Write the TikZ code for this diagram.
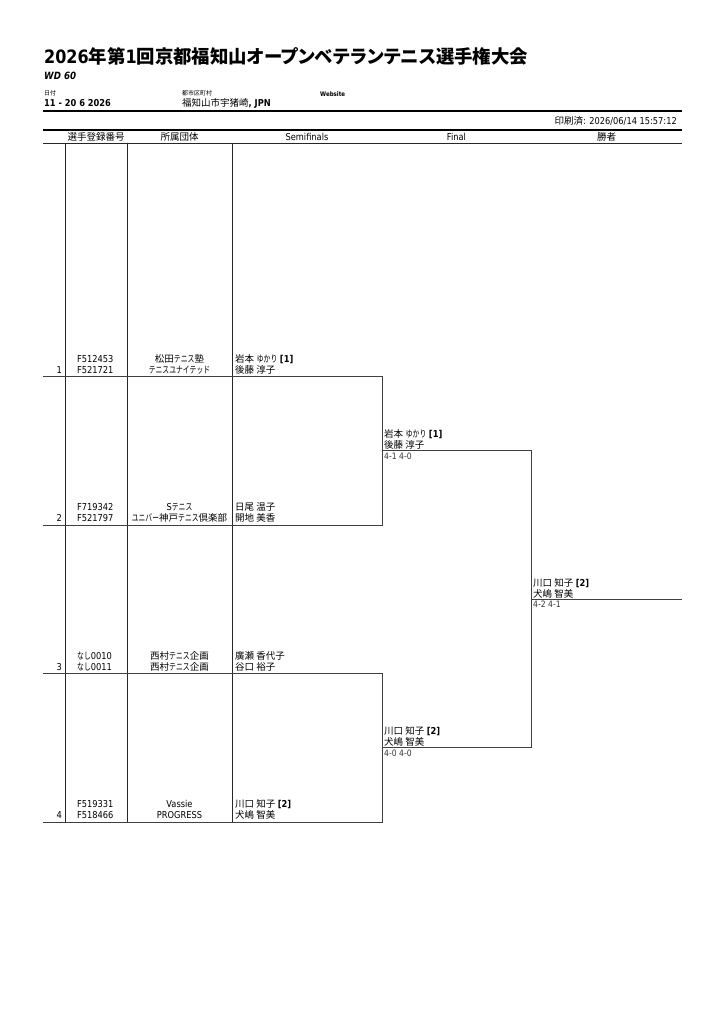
\documentclass[tikz,border=0pt]{standalone}
\usepackage{fontspec}
\setmainfont{DejaVu Sans}[FakeStretch=0.87]
\newfontfamily\jp{Noto Sans CJK JP}[RawFeature=+palt]
\newfontfamily\kn{Noto Sans CJK JP}[FakeStretch=0.72]
\usetikzlibrary{positioning, calc}

\tikzset{
  txt/.style={inner sep=0pt, anchor=base west, font=\fontsize{9.5}{11}\selectfont},
  ctxt/.style={txt, anchor=base},
  rtxt/.style={txt, anchor=base east},
  tiny/.style={inner sep=0pt, anchor=base west, font=\fontsize{6}{7}\selectfont},
  score/.style={txt, font=\fontsize{8.8}{10}\selectfont, text=black!80},
  rule/.style={black, line width=1.8pt},
  grid/.style={black!85, line width=0.7pt},
  brk/.style={black!75, line width=0.8pt},
}

\begin{document}
\begin{tikzpicture}[x=1pt, y=-1pt]
      \useasboundingbox (0,0) rectangle (724,1024);

      % heading
      \node[inner sep=0pt, anchor=base west, font=\fontsize{18.4}{20}\selectfont\bfseries] (title) at (44,63.5) {2026{\jp 年第}1{\jp 回京都福知山オープンベテランテニス選手権大会}};
      \node[inner sep=0pt, anchor=base west, font=\fontsize{10}{12}\selectfont\bfseries\itshape] (event) at (44,80) {WD 60};

      \node[tiny] (datelbl) at (44,96) {\jp 日付};
      \node[txt, font=\fontsize{9.5}{11}\selectfont\bfseries] (date) at (44,107) {11 - 20 6 2026};
      \node[tiny] (citylbl) at (182,96) {\jp 都市区町村};
      \node[txt] (city) at (182,107) {{\jp 福知山市宇猪崎}\textbf{, JPN}};
      \node[tiny, font=\fontsize{6.3}{7}\selectfont\bfseries] (web) at (320,97) {Website};

      \draw[rule] (43,111) -- (682,111);
      \node[rtxt] (printed) at (677,124.5) {{\jp 印刷済}: 2026/06/14 15:57:12};
      \draw[black, line width=1.3pt] (43,130) -- (682,130);

      % column titles
      \node[ctxt] (hid) at (96,141) {\jp 選手登録番号};
      \node[ctxt] (hclub) at (179.5,141) {\jp 所属団体};
      \node[ctxt] (hsf) at (307,141) {Semifinals};
      \node[ctxt] (hf) at (456.5,141) {Final};
      \node[ctxt] (hw) at (606.5,141) {\jp 勝者};
      \draw[grid] (43,143) -- (682,143);

      \draw[grid] (65,143) -- (65,822);
      \draw[grid] (127,143) -- (127,822);
      \draw[grid] (232,143) -- (232,822);

      % draw lines
      \coordinate (s1) at (382,376.5);
      \coordinate (s2) at (382,525);
      \coordinate (s3) at (382,673.5);
      \coordinate (s4) at (382,822);
      \coordinate (f1) at (382,450.75);
      \coordinate (f2) at (382,747.75);
      \coordinate (g1) at (531,450.75);
      \coordinate (g2) at (531,747.75);
      \coordinate (w) at (531,599.25);
      \coordinate (wend) at (682,599.25);

      \draw[brk] (43,376.5) -- (s1) -- (s2) -- (43,525);
      \draw[brk] (43,673.5) -- (s3) -- (s4) -- (43,822);
      \draw[brk] (f1) -- (g1) -- (g2) -- (f2);
      \draw[brk] (w) -- (wend);

      % row 1
      \node[rtxt] (n1) at (62,373) {1};
      \node[txt] (id1a) at (77,362) {F512453};
      \node[txt] (id1b) at (77,373) {F521721};
      \node[ctxt] (c1a) at (179.5,362) {{\jp 松田}{\kn テニス}{\jp 塾}};
      \node[ctxt] (c1b) at (179.5,373) {\kn テニスユナイテッド};
      \node[txt] (p1a) at (235,362) {{\jp 岩本} {\kn ゆかり} \textbf{[1]}};
      \node[txt] (p1b) at (235,373) {\jp 後藤 淳子};

      % row 2
      \node[rtxt] (n2) at (62,521.5) {2};
      \node[txt] (id2a) at (77,510.5) {F719342};
      \node[txt] (id2b) at (77,521.5) {F521797};
      \node[ctxt] (c2a) at (179.5,510.5) {S{\kn テニス}};
      \node[ctxt] (c2b) at (179.5,521.5) {{\kn ユニバー}{\jp 神戸}{\kn テニス}{\jp 倶楽部}};
      \node[txt] (p2a) at (235,510.5) {\jp 日尾 温子};
      \node[txt] (p2b) at (235,521.5) {\jp 開地 美香};

      % row 3
      \node[rtxt] (n3) at (62,670) {3};
      \node[txt] (id3a) at (77,659) {{\kn なし}0010};
      \node[txt] (id3b) at (77,670) {{\kn なし}0011};
      \node[ctxt] (c3a) at (179.5,659) {{\jp 西村}{\kn テニス}{\jp 企画}};
      \node[ctxt] (c3b) at (179.5,670) {{\jp 西村}{\kn テニス}{\jp 企画}};
      \node[txt] (p3a) at (235,659) {\jp 廣瀬 香代子};
      \node[txt] (p3b) at (235,670) {\jp 谷口 裕子};

      % row 4
      \node[rtxt] (n4) at (62,818.5) {4};
      \node[txt] (id4a) at (77,807.5) {F519331};
      \node[txt] (id4b) at (77,818.5) {F518466};
      \node[ctxt] (c4a) at (179.5,807.5) {Vassie};
      \node[ctxt] (c4b) at (179.5,818.5) {PROGRESS};
      \node[txt] (p4a) at (235,807.5) {{\jp 川口 知子} \textbf{[2]}};
      \node[txt] (p4b) at (235,818.5) {\jp 犬嶋 智美};

      % final
      \node[txt] (f1a) at (384,437.5) {{\jp 岩本} {\kn ゆかり} \textbf{[1]}};
      \node[txt] (f1b) at (384,448.5) {\jp 後藤 淳子};
      \node[score] (f1s) at (384,459) {4-1 4-0};
      \node[txt] (f2a) at (384,734.5) {{\jp 川口 知子} \textbf{[2]}};
      \node[txt] (f2b) at (384,745.5) {\jp 犬嶋 智美};
      \node[score] (f2s) at (384,756) {4-0 4-0};

      % winner
      \node[txt] (wa) at (533,586) {{\jp 川口 知子} \textbf{[2]}};
      \node[txt] (wb) at (533,597) {\jp 犬嶋 智美};
      \node[score] (ws) at (533,607.5) {4-2 4-1};

    \end{tikzpicture}
\end{document}
